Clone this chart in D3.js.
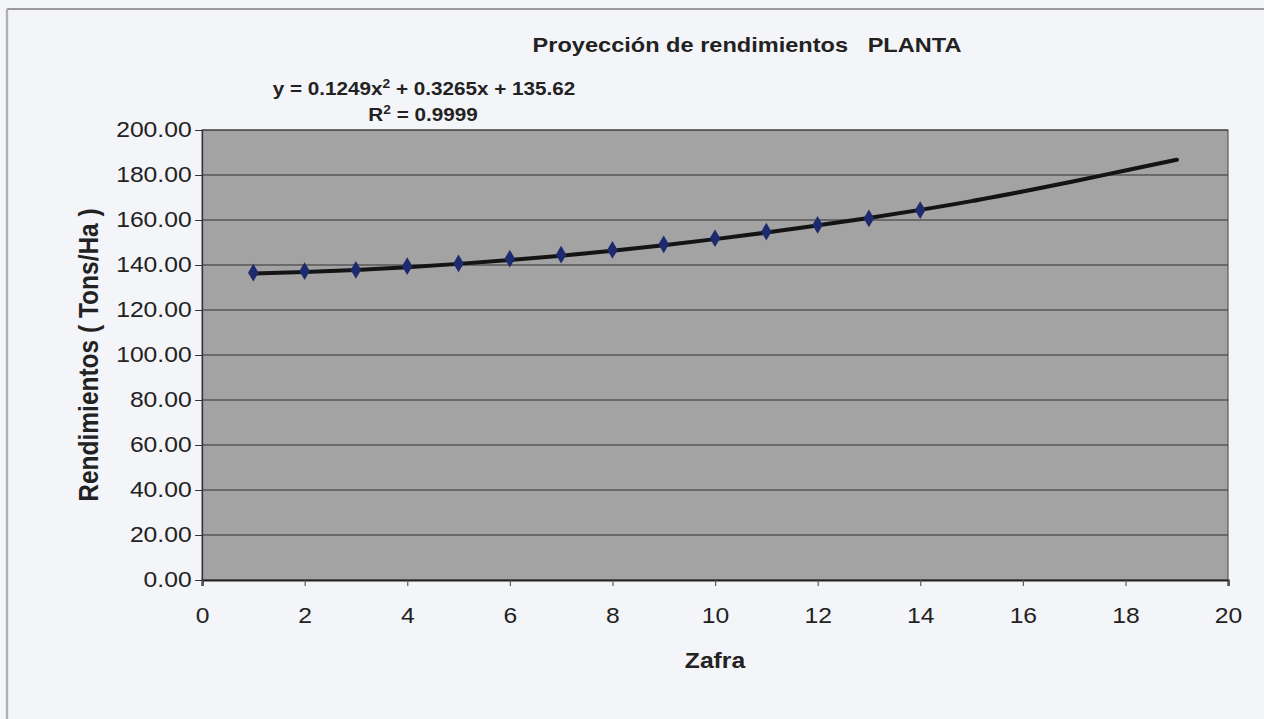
<!DOCTYPE html>
<html lang="es">
<head>
  <meta charset="UTF-8">
  <title>Proyección de rendimientos PLANTA</title>
  <script src="https://d3js.org/d3.v7.min.js"></script>
  <style>
    body { margin: 0; background: #f4f5f8; }
    svg { display: block; }
    text { font-family: "Liberation Sans", Arial, sans-serif; fill: #222; }
  </style>
</head>
<body>
  <svg id="chart"></svg>
  <script>
    // data
    const zafra = [1, 2, 3, 4, 5, 6, 7, 8, 9, 10, 11, 12, 13, 14];
    const rendimiento = [136.6, 137.3, 137.8, 139.5, 140.7, 142.8, 144.6, 146.7, 149.2, 151.9, 154.8, 157.8, 160.7, 164.4];

    // trend curve (polynomial, order 2), extended to zafra 19
    const trendX = [1, 2, 3, 4, 5, 6, 7, 8, 9, 10, 11, 12, 13, 14, 15, 16, 17, 18, 19];
    const trendY = [136.2, 136.9, 137.8, 139.0, 140.5, 142.2, 144.1, 146.3, 148.8, 151.5, 154.4, 157.6, 160.9, 164.5, 168.4, 172.7, 177.2, 182.0, 186.8];

    const xTicks = [0, 2, 4, 6, 8, 10, 12, 14, 16, 18, 20];
    const yTicks = [0, 20, 40, 60, 80, 100, 120, 140, 160, 180, 200];

    // the scan is stretched sideways, so draw in a narrower box and stretch it
    const stretch = 1.149;
    const width = 1264, height = 719;
    const innerW = width / stretch;

    const svg = d3.select('svg#chart')
      .attr('width', width)
      .attr('height', height)
      .attr('viewBox', '0 0 ' + innerW + ' ' + height)
      .attr('preserveAspectRatio', 'none');

    const margin = { top: 130, left: 202 / stretch, right: 1228 / stretch, bottom: 580 };

    // frame lines of the sheet
    svg.append('line').attr('x1', 7 / stretch).attr('x2', innerW).attr('y1', 9).attr('y2', 9)
      .attr('stroke', '#9a9a9a').attr('stroke-width', 2);
    svg.append('line').attr('x1', 7 / stretch).attr('x2', 7 / stretch).attr('y1', 9).attr('y2', height)
      .attr('stroke', '#b0b0b0').attr('stroke-width', 2);

    const xScale = d3.scaleLinear().domain([0, 20]).range([margin.left, margin.right]);
    const yScale = d3.scaleLinear().domain([0, 200]).range([margin.bottom, margin.top]);

    // plot area
    svg.append('rect')
      .attr('x', xScale(0)).attr('y', yScale(200))
      .attr('width', xScale(20) - xScale(0)).attr('height', yScale(0) - yScale(200))
      .attr('fill', '#a3a3a3').attr('stroke', '#555').attr('stroke-width', 1);

    // gridlines
    svg.append('g').selectAll('line').data(yTicks.slice(1))
      .join('line')
      .attr('x1', xScale(0)).attr('x2', xScale(20))
      .attr('y1', d => yScale(d)).attr('y2', d => yScale(d))
      .attr('stroke', '#333').attr('stroke-width', 1);

    // y axis
    let leftAxis = d3.axisLeft(yScale).tickValues(yTicks).tickFormat(d3.format('.2f')).tickSize(6).tickPadding(3);
    let yAxisG = svg.append('g').attr('class', 'y-axis')
      .attr('transform', 'translate(' + xScale(0) + ',0)')
      .call(leftAxis);
    yAxisG.select('.domain').attr('stroke', '#333');
    yAxisG.selectAll('.tick line').attr('stroke', '#333');
    yAxisG.selectAll('.tick text').attr('font-size', 21.5).attr('fill', '#222')
      .attr('font-family', '"Liberation Sans", Arial, sans-serif');

    // x axis
    let bottomAxis = d3.axisBottom(xScale).tickValues(xTicks).tickFormat(d3.format('d')).tickSize(6).tickPadding(22);
    let xAxisG = svg.append('g').attr('class', 'x-axis')
      .attr('transform', 'translate(0,' + yScale(0) + ')')
      .call(bottomAxis);
    xAxisG.select('.domain').attr('stroke', '#222').attr('stroke-width', 2);
    xAxisG.selectAll('.tick line').attr('stroke', '#555');
    xAxisG.selectAll('.tick text').attr('font-size', 21.5).attr('fill', '#222')
      .attr('font-family', '"Liberation Sans", Arial, sans-serif');

    // trend curve
    const line = d3.line()
      .x(d => xScale(d[0]))
      .y(d => yScale(d[1]))
      .curve(d3.curveMonotoneX);
    svg.append('path')
      .datum(d3.zip(trendX, trendY))
      .attr('d', line)
      .attr('fill', 'none')
      .attr('stroke', '#141414')
      .attr('stroke-width', 4)
      .attr('stroke-linecap', 'round');

    // markers
    const diamond = d3.symbol().type(d3.symbolDiamond).size(90);
    svg.append('g').selectAll('path').data(d3.zip(zafra, rendimiento))
      .join('path')
      .attr('d', diamond)
      .attr('transform', d => 'translate(' + xScale(d[0]) + ',' + yScale(d[1]) + ') scale(0.9,1)')
      .attr('fill', '#1d2a6e');

    // texts
    svg.append('text')
      .attr('x', 747 / stretch).attr('y', 52)
      .attr('text-anchor', 'middle')
      .style('font-weight', 'bold').style('font-size', '20.5px')
      .attr('xml:space', 'preserve')
      .text('Proyección de rendimientos   PLANTA');

    const eq = svg.append('text')
      .attr('x', 424 / stretch).attr('y', 95)
      .attr('text-anchor', 'middle')
      .style('font-weight', 'bold').style('font-size', '18px');
    eq.append('tspan').text('y = 0.1249x');
    eq.append('tspan').attr('dy', -7).style('font-size', '12px').text('2');
    eq.append('tspan').attr('dy', 7).text(' + 0.3265x + 135.62');

    const r2 = svg.append('text')
      .attr('x', 423 / stretch).attr('y', 121)
      .attr('text-anchor', 'middle')
      .style('font-weight', 'bold').style('font-size', '18px');
    r2.append('tspan').text('R');
    r2.append('tspan').attr('dy', -7).style('font-size', '12px').text('2');
    r2.append('tspan').attr('dy', 7).text(' = 0.9999');

    svg.append('text')
      .attr('x', 715 / stretch).attr('y', 668)
      .attr('text-anchor', 'middle')
      .style('font-weight', 'bold').style('font-size', '21.5px')
      .text('Zafra');

    svg.append('text')
      .attr('transform', 'translate(' + (98 / stretch) + ',355) rotate(-90)')
      .attr('text-anchor', 'middle')
      .style('font-weight', 'bold').style('font-size', '24.5px')
      .text('Rendimientos ( Tons/Ha )');
  </script>
</body>
</html>
